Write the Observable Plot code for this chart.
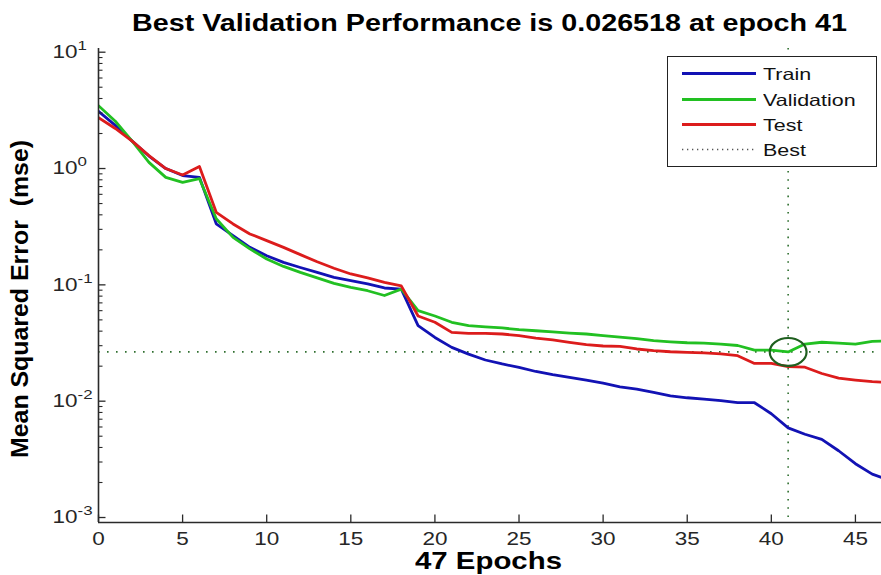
<!DOCTYPE html>
<html><head><meta charset="utf-8">
<script src="https://cdn.jsdelivr.net/npm/d3@7"></script>
<script src="https://cdn.jsdelivr.net/npm/@observablehq/plot@0.6"></script>
<style>
html,body{margin:0;padding:0;background:#fff;}
#wrap{position:relative;width:881px;height:575px;overflow:hidden;font-family:"Liberation Sans",Arial,sans-serif;background:#fff;}
#wrap svg{display:block;}
.lbl{position:absolute;white-space:pre;font-weight:bold;color:#000;line-height:1;transform-origin:0 0;}
.leg{position:absolute;left:667px;top:56px;width:208px;height:109px;border:1.3px solid #222;background:#fff;}
.legtxt{position:absolute;white-space:nowrap;font-size:16.5px;line-height:1;color:#111;transform-origin:0 0;}
</style></head><body><div id="wrap"></div>
<script>
// ---------------- data ----------------
const epochs = [0,1,2,3,4,5,6,7,8,9,10,11,12,13,14,15,16,17,18,19,20,21,22,23,24,25,26,27,28,29,30,31,32,33,34,35,36,37,38,39,40,41,42,43,44,45,46,47];
const trainPerf = [3.1,2.35,1.72,1.28,1.0,0.87,0.84,0.335,0.265,0.21,0.178,0.156,0.141,0.128,0.116,0.109,0.102,0.094,0.092,0.0446,0.0353,0.029,0.0254,0.0226,0.0209,0.0195,0.018,0.0169,0.016,0.0152,0.0143,0.0133,0.0127,0.0119,0.0111,0.0107,0.0104,0.0101,0.0097,0.0097,0.0078,0.0059,0.0052,0.0047,0.00375,0.0029,0.00236,0.0021];
const valPerf = [3.47,2.55,1.72,1.13,0.84,0.76,0.82,0.37,0.256,0.204,0.167,0.144,0.128,0.115,0.103,0.095,0.089,0.081,0.092,0.06,0.054,0.0477,0.0446,0.0435,0.0426,0.0412,0.0403,0.0394,0.0385,0.0378,0.0366,0.0356,0.0345,0.0331,0.0324,0.0318,0.0316,0.031,0.0301,0.0275,0.0275,0.026518,0.031,0.0321,0.0316,0.031,0.0327,0.033];
const testPerf = [2.74,2.21,1.72,1.29,1.0,0.88,1.04,0.42,0.334,0.274,0.24,0.21,0.182,0.158,0.139,0.124,0.115,0.105,0.098,0.054,0.0477,0.039,0.0383,0.0383,0.0378,0.0366,0.0349,0.0336,0.032,0.0306,0.0298,0.0296,0.0281,0.0272,0.0266,0.0263,0.026,0.0255,0.0246,0.0211,0.0211,0.0198,0.0196,0.0173,0.0158,0.0152,0.0147,0.0145];
const seriesNames = ["Train","Validation","Test"];
const seriesColors = ["#1212b4","#22c022","#dc1c1c"];
const bestEpoch = 41;
const bestPerf = 0.026518;
const xTicks = [0,5,10,15,20,25,30,35,40,45];
const yMajorTicks = [0.001,0.01,0.1,1,10];
const yMinorTicks = [0.002,0.003,0.004,0.005,0.006,0.007,0.008,0.009,
                     0.02,0.03,0.04,0.05,0.06,0.07,0.08,0.09,
                     0.2,0.3,0.4,0.5,0.6,0.7,0.8,0.9,
                     2,3,4,5,6,7,8,9];
const titleText = "Best Validation Performance is 0.026518 at epoch 41";
const xLabelText = "47 Epochs";
const yLabelText = "Mean Squared Error  (mse)";
const legendItems = ["Train","Validation","Test","Best"];

// ---------------- layout ----------------
const W = 881, H = 575, mL = 98, mR = 0, mT = 48, mB = 53;
const frameW = W - mL - mR, frameH = H - mT - mB;
const xDomain = [0, 46.55];
const yDomain = [0.000906, 10.76];
const axisColor = "#2a2a2a";
const bestColor = "#2f6f2f";
const SX = 1.25; // horizontal stretch of the reference's text

const rows = [trainPerf, valPerf, testPerf].flatMap((arr, i) =>
  epochs.map((e, j) => ({epoch: e, mse: arr[j], series: seriesNames[i]})));

// elliptical marker symbol (the reference's circle is wider than tall)
const ellipseSymbol = {
  draw(context, size) {
    const r = Math.sqrt(size / Math.PI);
    const rx = r * 1.15, ry = r * 0.87, k = 0.5523;
    context.moveTo(rx, 0);
    context.bezierCurveTo(rx, ry * k, rx * k, ry, 0, ry);
    context.bezierCurveTo(-rx * k, ry, -rx, ry * k, -rx, 0);
    context.bezierCurveTo(-rx, -ry * k, -rx * k, -ry, 0, -ry);
    context.bezierCurveTo(rx * k, -ry, rx, -ry * k, rx, 0);
    context.closePath();
  }
};

const chart = Plot.plot({
  width: W, height: H,
  marginLeft: mL, marginRight: mR, marginTop: mT, marginBottom: mB,
  style: {fontFamily: "'Liberation Sans', Arial, sans-serif", fontSize: "18px", color: "#262626", background: "transparent", overflow: "hidden"},
  x: {domain: xDomain, label: null},
  y: {type: "log", domain: yDomain, label: null},
  color: {domain: seriesNames, range: seriesColors},
  marks: [
    Plot.ruleY([bestPerf], {stroke: bestColor, strokeWidth: 1.6, strokeDasharray: "1.6,7.4"}),
    Plot.ruleX([bestEpoch], {stroke: bestColor, strokeWidth: 1.6, strokeDasharray: "1.6,6.6"}),
    Plot.line(rows, {x: "epoch", y: "mse", stroke: "series", strokeWidth: 2.8, clip: true}),
    Plot.dot([{epoch: bestEpoch, mse: bestPerf}], {x: "epoch", y: "mse", r: 16, symbol: ellipseSymbol, stroke: "#1f5f1f", strokeWidth: 2.2, fill: "none"}),
    Plot.ruleX(xTicks, {insetTop: frameH - 7.5, stroke: axisColor, strokeWidth: 1.3}),
    Plot.ruleY(yMajorTicks, {insetRight: frameW - 7.5, stroke: axisColor, strokeWidth: 1.3}),
    Plot.ruleY(yMinorTicks, {insetRight: frameW - 4.5, stroke: axisColor, strokeWidth: 1.1}),
    Plot.ruleX([xDomain[0]], {stroke: axisColor, strokeWidth: 1.6}),
    Plot.ruleY([yDomain[0]], {stroke: axisColor, strokeWidth: 1.6}),
    Plot.axisX(xTicks, {tickSize: 0, tickPadding: 10, label: null, fontSize: 18, fill: "#262626"}),
    Plot.axisY(yMajorTicks, {tickSize: 0, tickPadding: 46, textAnchor: "start", label: null, fontSize: 18, fill: "#262626",
      tickFormat: d => String(Math.round(Math.log10(d)))})
  ]
});

const wrap = document.getElementById("wrap");
wrap.appendChild(chart);

// y tick labels as 10^k with a real superscript; stretch tick labels horizontally
chart.querySelectorAll('g[aria-label="y-axis tick label"] text').forEach(t => {
  const exp = t.textContent;
  t.textContent = "";
  const base = document.createElementNS("http://www.w3.org/2000/svg", "tspan");
  base.textContent = "10";
  const sup = document.createElementNS("http://www.w3.org/2000/svg", "tspan");
  sup.setAttribute("dy", "-0.58em");
  sup.setAttribute("font-size", "13.5");
  sup.textContent = exp;
  t.appendChild(base); t.appendChild(sup);
});
chart.querySelectorAll('g[aria-label="y-axis tick label"] text, g[aria-label="x-axis tick label"] text').forEach(t => {
  const tr = t.getAttribute("transform") || "";
  t.setAttribute("transform", tr + ` scale(${SX},1)`);
});

// ---------------- text outside the plot ----------------
function addLabel(text, size, cx, baseline, targetW, rotate) {
  const d = document.createElement("div");
  d.className = "lbl";
  d.style.fontSize = size + "px";
  d.textContent = text;
  wrap.appendChild(d);
  const w = d.getBoundingClientRect().width;
  const s = targetW / w;
  const asc = 0.8465 * size; // baseline offset inside a line-height:1 box
  if (!rotate) {
    d.style.left = (cx - targetW / 2) + "px";
    d.style.top = (baseline - asc) + "px";
    d.style.transform = `scale(${s},1)`;
  } else {
    // cx = horizontal centre of the rotated text, baseline = vertical centre
    d.style.left = (cx - size / 2) + "px";
    d.style.top = (baseline + targetW / 2) + "px";
    d.style.transform = `rotate(-90deg) scale(${s},1)`;
  }
}
addLabel(titleText, 23, 489.2, 31.7, 715, false);
addLabel(xLabelText, 24, 488.3, 569.3, 147, false);
addLabel(yLabelText, 24, 20, 299, 318, true);

// legend
const leg = document.createElement("div");
leg.className = "leg";
const NS = "http://www.w3.org/2000/svg";
const ls = document.createElementNS(NS, "svg");
ls.setAttribute("width", 208); ls.setAttribute("height", 109);
ls.style.position = "absolute"; ls.style.left = "0"; ls.style.top = "0";
const rowY = [16.5, 42.5, 67.5, 92.5];
legendItems.forEach((name, i) => {
  const l = document.createElementNS(NS, "line");
  l.setAttribute("x1", 14); l.setAttribute("x2", 88);
  l.setAttribute("y1", rowY[i]); l.setAttribute("y2", rowY[i]);
  if (i < 3) {
    l.setAttribute("stroke", seriesColors[i]); l.setAttribute("stroke-width", 2.8);
  } else {
    l.setAttribute("stroke", "#555"); l.setAttribute("stroke-width", 1.3); l.setAttribute("stroke-dasharray", "1.3,3.7");
  }
  ls.appendChild(l);
  const t = document.createElement("div");
  t.className = "legtxt";
  t.textContent = name;
  t.style.left = "95px";
  t.style.top = (rowY[i] + 6.5 - 0.8465 * 16.5) + "px";
  t.style.transform = "scale(1.3,1)";
  leg.appendChild(t);
});
leg.insertBefore(ls, leg.firstChild);
wrap.appendChild(leg);
</script>
</body></html>
